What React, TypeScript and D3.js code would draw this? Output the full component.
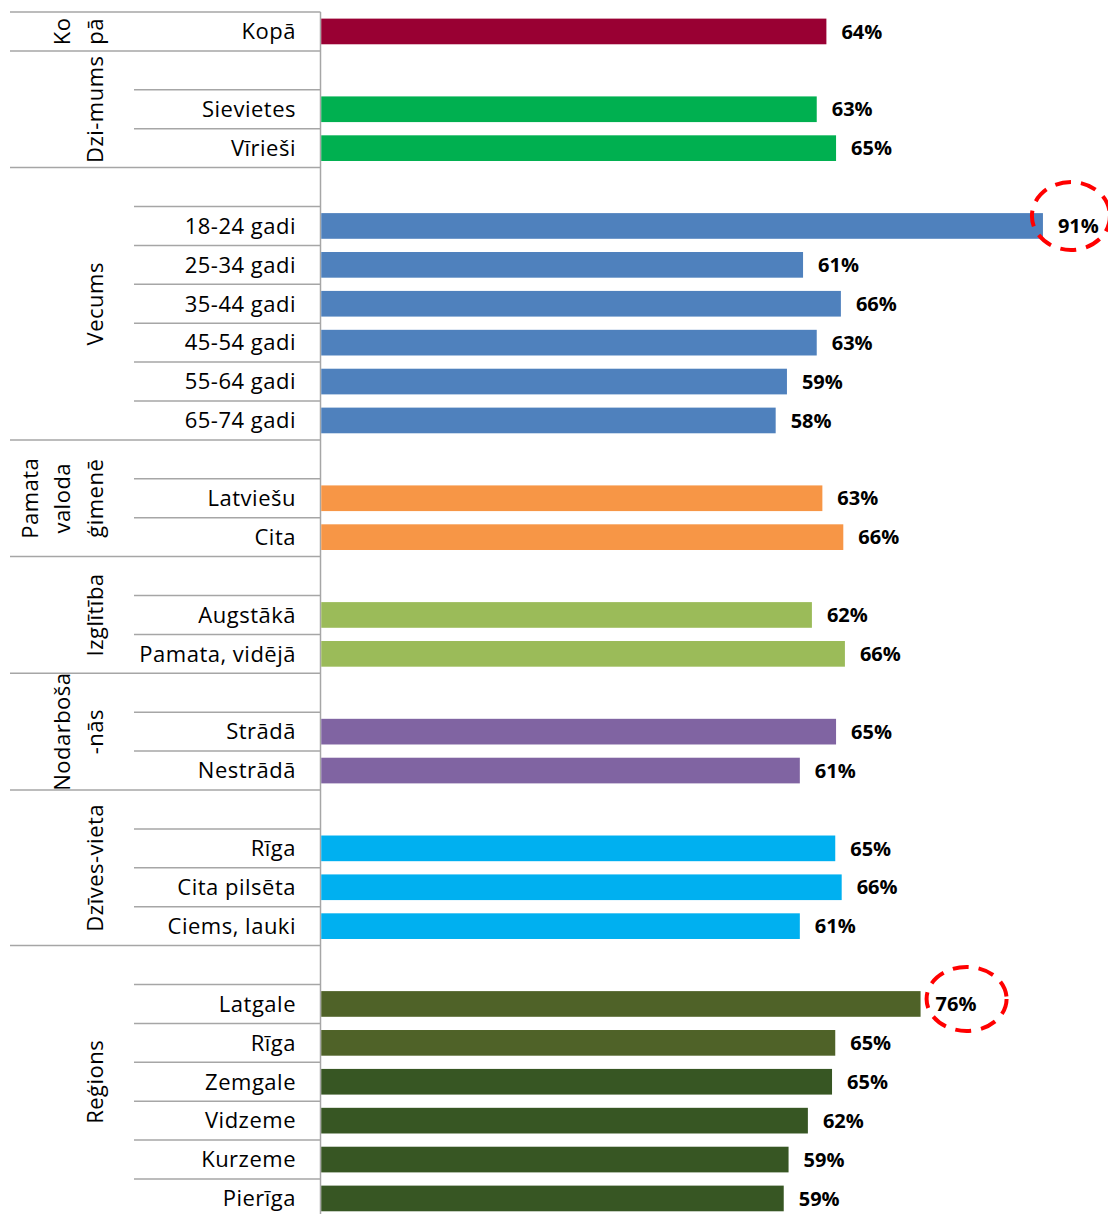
import React from "react";
import * as d3 from "d3";

// ---- data ----
const groupIds = ["kopa", "dzimums", "vecums", "valoda", "izglitiba", "nodarbosanas", "dzivesvieta", "regions"];
const groupLabelLines = [
  ["Ko", "pā"],
  ["Dzi-mums"],
  ["Vecums"],
  ["Pamata", "valoda", "ģimenē"],
  ["Izglītība"],
  ["Nodarboša", "-nās"],
  ["Dzīves-vieta"],
  ["Reģions"],
];
const groupHasBlankRow = [false, true, true, true, true, true, true, true];

const kopaCats = ["Kopā"];
const kopaVals = [63.9];
const genderCats = ["Sievietes", "Vīrieši"];
const genderVals = [62.7, 65.1];
const ageCats = ["18-24 gadi", "25-34 gadi", "35-44 gadi", "45-54 gadi", "55-64 gadi", "65-74 gadi"];
const ageVals = [90.8, 61.0, 65.7, 62.7, 59.0, 57.6];
const languageCats = ["Latviešu", "Cita"];
const languageVals = [63.4, 66.0];
const educationCats = ["Augstākā", "Pamata, vidējā"];
const educationVals = [62.1, 66.2];
const occupationCats = ["Strādā", "Nestrādā"];
const occupationVals = [65.1, 60.6];
const residenceCats = ["Rīga", "Cita pilsēta", "Ciems, lauki"];
const residenceVals = [65.0, 65.8, 60.6];
const regionCats = ["Latgale", "Rīga", "Zemgale", "Vidzeme", "Kurzeme", "Pierīga"];
const regionVals = [75.6, 65.0, 64.6, 61.6, 59.2, 58.6];

const groupCats = [kopaCats, genderCats, ageCats, languageCats, educationCats, occupationCats, residenceCats, regionCats];
const groupVals = [kopaVals, genderVals, ageVals, languageVals, educationVals, occupationVals, residenceVals, regionVals];
const groupColors = [
  ["#990033"],
  ["#00b050", "#00b050"],
  ["#4f81bd", "#4f81bd", "#4f81bd", "#4f81bd", "#4f81bd", "#4f81bd"],
  ["#f79646", "#f79646"],
  ["#9bbb59", "#9bbb59"],
  ["#8064a2", "#8064a2"],
  ["#00b0f0", "#00b0f0", "#00b0f0"],
  ["#4f6228", "#4f6228", "#375623", "#375623", "#375623", "#375623"],
];

// highlighted values (red dashed ellipses)
const highlights = [
  { group: "vecums", cat: "18-24 gadi", dx: -7, dy: -10, rx: 39, ry: 34 },
  { group: "regions", cat: "Latgale", dx: 11, dy: -5, rx: 40, ry: 32 },
];

// ---- layout ----
const W = 1108;
const H = 1214;
const TOP = 12;
const ROW_H = 38.9;
const AXIS_X = 320.5;
const GROUP_LINE_X0 = 10;
const ROW_LINE_X0 = 134;
const CAT_LABEL_X = 296;
const GROUP_LABEL_X = 95;
const GROUP_LINE_SPACING = 32.5;
const CAT_FONT = 22;
const VAL_FONT = 20;
const GRID = "#a6a6a6";
const FONT = "'Open Sans', 'Noto Sans', sans-serif";

type Row = { key: string; group: string; gi: number; cat: string | null; value: number | null; color: string };

const rows: Row[] = [];
groupIds.forEach((g, gi) => {
  if (groupHasBlankRow[gi]) rows.push({ key: g + "|blank", group: g, gi, cat: null, value: null, color: "none" });
  groupCats[gi].forEach((c, i) =>
    rows.push({ key: g + "|" + c, group: g, gi, cat: c, value: groupVals[gi][i], color: groupColors[gi][i] })
  );
});

export default function App() {
  const y = d3
    .scaleBand<string>()
    .domain(rows.map((r) => r.key))
    .range([TOP, TOP + rows.length * ROW_H])
    .padding(0);
  const bw = y.bandwidth();
  const barH = bw * 0.66;
  const x = d3.scaleLinear().domain([0, 100]).range([312, 1117]);
  const plotLeft = AXIS_X + 0.75;

  const groupExtents = groupIds.map((g) => {
    const rs = rows.filter((r) => r.group === g);
    const y0 = y(rs[0].key)!;
    const y1 = y(rs[rs.length - 1].key)! + bw;
    return { g, y0, y1, rows: rs };
  });

  const bottom = TOP + rows.length * ROW_H;

  return (
    <svg
      width={W}
      height={H}
      style={{ position: "absolute", left: 0, top: 0, background: "#fff" }}
      fontFamily={FONT}
    >
      <rect x={0} y={0} width={W} height={H} fill="#fff" />
      {groupExtents.map((ge) => (
        <line key={"gl" + ge.g} x1={GROUP_LINE_X0} x2={AXIS_X} y1={ge.y0} y2={ge.y0} stroke={GRID} strokeWidth={1.5} />
      ))}
      <line x1={GROUP_LINE_X0} x2={AXIS_X} y1={bottom} y2={bottom} stroke={GRID} strokeWidth={1.5} />
      {groupExtents.map((ge) =>
        ge.rows.slice(1).map((r) => (
          <line key={"rl" + r.key} x1={ROW_LINE_X0} x2={AXIS_X} y1={y(r.key)!} y2={y(r.key)!} stroke={GRID} strokeWidth={1.5} />
        ))
      )}
      <line x1={AXIS_X} x2={AXIS_X} y1={TOP} y2={bottom} stroke={GRID} strokeWidth={1.5} />

      {groupExtents.map((ge, gi) => {
        const lines = groupLabelLines[gi];
        const cy = (ge.y0 + ge.y1) / 2;
        return lines.map((ln, i) => {
          const cx = GROUP_LABEL_X - GROUP_LINE_SPACING * (lines.length - 1 - i);
          const bx = cx + CAT_FONT * 0.36;
          return (
            <text
              key={"gt" + gi + "_" + i}
              transform={`translate(${bx},${cy}) rotate(-90)`}
              textAnchor="middle"
              fontSize={CAT_FONT}
              letterSpacing={0.5}
              fill="#000"
            >
              {ln}
            </text>
          );
        });
      })}

      {rows
        .filter((r) => r.cat !== null)
        .map((r) => {
          const cy = y(r.key)! + bw / 2;
          const xe = x(r.value!);
          return (
            <g key={"row" + r.key}>
              <text
                x={CAT_LABEL_X}
                y={cy + CAT_FONT * 0.355}
                textAnchor="end"
                fontSize={CAT_FONT}
                letterSpacing={0.5}
                fill="#000"
              >
                {r.cat}
              </text>
              <rect x={plotLeft} y={cy - barH / 2} width={xe - plotLeft} height={barH} fill={r.color} />
              <text x={xe + 15} y={cy + VAL_FONT * 0.36} fontSize={VAL_FONT} fontWeight={700} fill="#000">
                {Math.round(r.value!) + "%"}
              </text>
            </g>
          );
        })}

      {highlights.map((h) => {
        const r = rows.find((rr) => rr.group === h.group && rr.cat === h.cat)!;
        const cy = y(r.key)! + bw / 2;
        const cx = x(r.value!) + 15 + 20;
        return (
          <ellipse
            key={"hl" + r.key}
            cx={cx + h.dx}
            cy={cy + h.dy}
            rx={h.rx}
            ry={h.ry}
            fill="none"
            stroke="#ff0000"
            strokeWidth={4}
            strokeDasharray="16 10"
          />
        );
      })}
    </svg>
  );
}
